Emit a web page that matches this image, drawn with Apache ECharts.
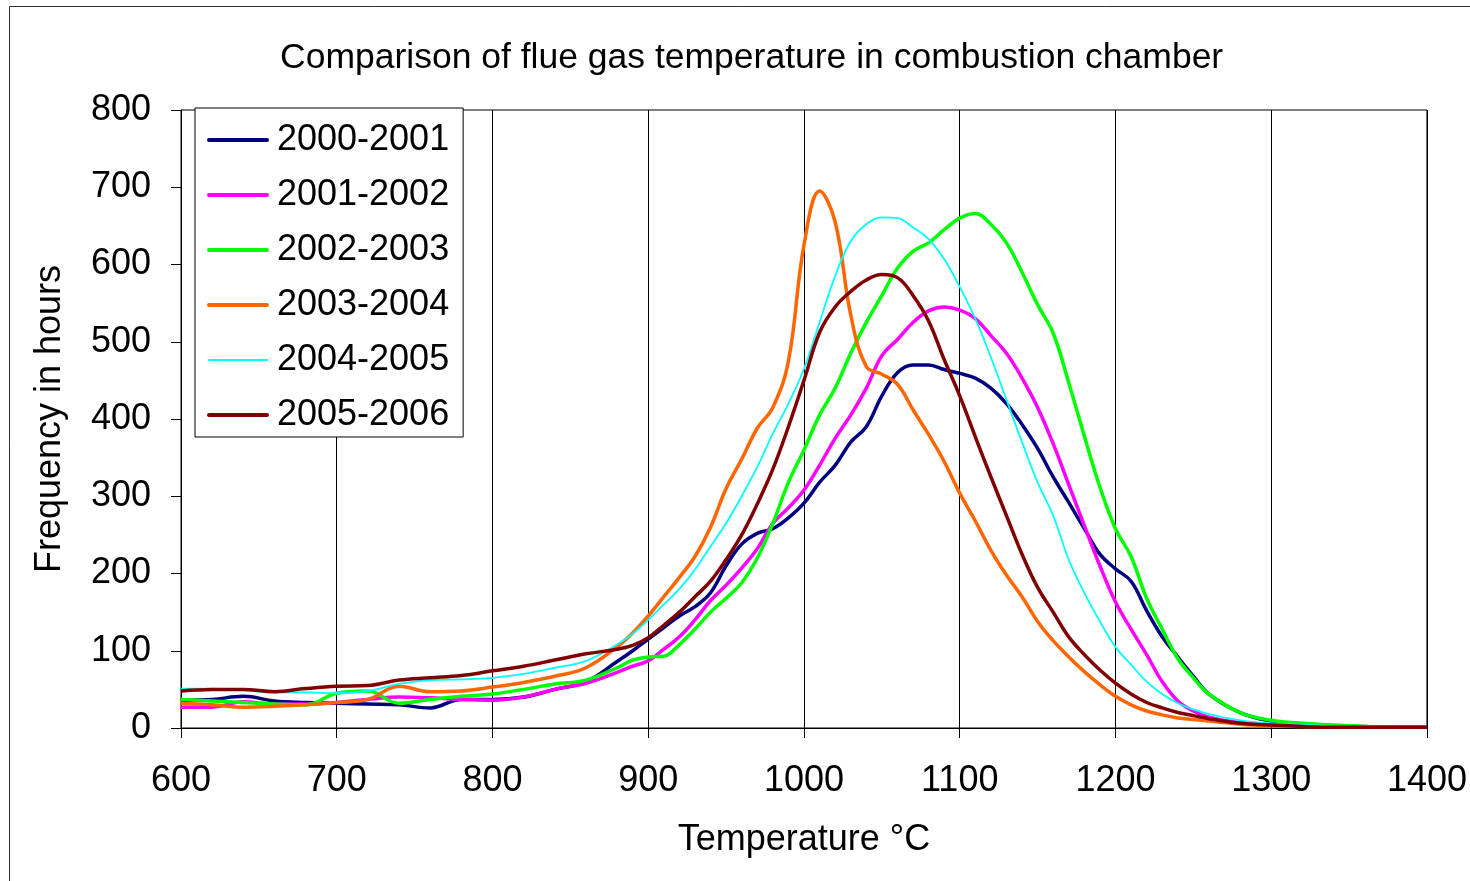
<!DOCTYPE html>
<html>
<head>
<meta charset="utf-8">
<script src="https://cdn.jsdelivr.net/npm/echarts@6/dist/echarts.min.js"></script>
<style>
html,body{margin:0;padding:0;background:#fff;}
#c{width:1470px;height:881px;}
</style>
</head>
<body>
<div id="c"></div>
<script>
const temps = [600,620,640,660,680,700,720,740,760,780,800,820,840,860,880,
  890,900,910,920,930,940,950,960,970,980,990,1000,1010,1020,1030,1040,1050,1060,1070,1080,1090,1100,
  1110,1120,1130,1140,1150,1160,1170,1180,1190,1200,1210,1220,1230,1240,1250,1260,
  1280,1300,1320,1340,1360,1380,1400];

const s2000 = [36,37,41,35,33,32,31,30,26,37,37,40,50,60,86,
  100,115,130,145,157,175,210,238,252,258,272,291,318,340,370,390,430,460,470,470,464,459,
  453,440,420,393,362,325,292,258,225,206,190,152,118,92,67,44,
  20,9,5,3,2,1,1];
const s2001 = [27,27,34,31,31,33,37,40,39,37,36,40,50,58,72,
  80,87,102,118,140,165,185,207,232,265,285,308,340,375,405,440,482,503,525,540,545,541,
  530,508,485,453,415,368,315,262,210,163,128,95,60,35,22,14,
  7,4,3,2,1,1,1];
const s2002 = [37,35,33,31,30,45,48,32,37,41,44,50,57,62,78,
  88,92,93,108,128,150,168,188,220,265,318,360,405,440,485,525,560,595,617,628,645,660,
  666,652,628,590,548,511,447,378,312,258,222,168,128,90,65,44,
  20,10,6,4,2,1,1];
const s2003 = [32,30,27,28,30,33,37,54,47,48,53,59,67,78,105,
  123,145,170,195,222,260,310,348,388,415,475,625,695,655,535,468,458,445,412,380,345,304,
  268,230,198,170,138,113,92,73,56,41,30,22,17,13,11,9,
  5,3,2,1,1,1,1];
const s2004 = [51,51,49,46,46,45,48,57,62,63,65,70,78,87,108,
  122,140,160,180,205,235,265,300,338,381,420,465,525,585,630,652,661,660,648,633,607,571,
  530,480,425,370,318,275,218,175,138,105,82,60,44,32,24,18,
  10,6,4,2,1,1,1];
const s2005 = [48,50,50,47,51,54,55,62,65,68,74,80,88,96,102,
  107,117,133,150,170,190,218,250,290,335,390,450,512,545,565,580,587,583,560,527,477,430,
  377,325,275,225,182,150,118,95,75,58,44,33,26,20,16,12,
  6,4,2,1,1,1,1];

const seriesNames = ['2000-2001','2001-2002','2002-2003','2003-2004','2004-2005','2005-2006'];
const seriesValues = [s2000,s2001,s2002,s2003,s2004,s2005];
const colors = ['#000080','#FF00FF','#00FF00','#FF6600','#00FFFF','#800000'];
const widths = [3.5,3.5,3.5,3.5,1.8,3.5];
const legendWidths = [4,4,4,4,2,4];
const yTicks = [0,100,200,300,400,500,600,700,800];
const xTicks = [600,700,800,900,1000,1100,1200,1300,1400];

const FONT = '"Liberation Sans", Arial, sans-serif';
const chart = echarts.init(document.getElementById('c'), null, {renderer:'canvas'});
chart.setOption({
  animation:false,
  backgroundColor:'#fff',
  title:{
    text:'Comparison of flue gas temperature in combustion chamber',
    left:275, top:35,
    textStyle:{fontFamily:FONT,fontSize:35.5,fontWeight:'normal',color:'#000'}
  },
  graphic:[{
    type:'rect', shape:{x:9.5,y:6.5,width:1600,height:1000},
    style:{fill:'none',stroke:'#333',lineWidth:1}, silent:true, z:-1
  }],
  legend:{
    orient:'vertical', left:195, top:108,
    padding:[12,14,2,12], itemGap:15,
    itemWidth:58, itemHeight:14,
    backgroundColor:'#fff', borderColor:'#000', borderWidth:1,
    itemStyle:{opacity:0},
    lineStyle:{width:4,cap:'round'},
    textStyle:{fontFamily:FONT,fontSize:36,color:'#000',lineHeight:40,padding:[0,0,0,5]},
    data:seriesNames.map((n,i)=>({name:n,lineStyle:{width:legendWidths[i],cap:'round'}}))
  },
  grid:{left:181,top:110,right:43,bottom:153,show:true,borderColor:'#000',borderWidth:1,backgroundColor:'transparent'},
  xAxis:{
    type:'value', min:600, max:1400, interval:100,
    name:'Temperature \u00B0C', nameLocation:'middle', nameGap:94,
    nameTextStyle:{fontFamily:FONT,fontSize:36,color:'#000'},
    axisLine:{lineStyle:{color:'#000',width:1}},
    axisTick:{show:true,length:10,inside:false,lineStyle:{color:'#000'}},
    axisLabel:{fontFamily:FONT,fontSize:36,color:'#000',margin:35,
      formatter:v=>xTicks.includes(v)?String(v):''},
    splitLine:{show:true,lineStyle:{color:'#000',width:1}}
  },
  yAxis:{
    type:'value', min:0, max:800, interval:100,
    name:'Frequency in hours', nameLocation:'middle', nameGap:113, nameRotate:90,
    nameTextStyle:{fontFamily:FONT,fontSize:36,color:'#000'},
    axisLine:{show:true,lineStyle:{color:'#000',width:1}},
    axisTick:{show:true,length:10,inside:false,lineStyle:{color:'#000'}},
    axisLabel:{fontFamily:FONT,fontSize:36,color:'#000',margin:30,
      formatter:v=>yTicks.includes(v)?String(v):''},
    splitLine:{show:false}
  },
  series:seriesNames.map((n,i)=>({
    name:n, type:'line', smooth:0.4, symbol:'none', showSymbol:false,
    data:temps.map((t,j)=>[t,seriesValues[i][j]]),
    lineStyle:{color:colors[i],width:widths[i]},
    itemStyle:{color:colors[i]},
    clip:false
  }))
});
</script>
</body>
</html>
